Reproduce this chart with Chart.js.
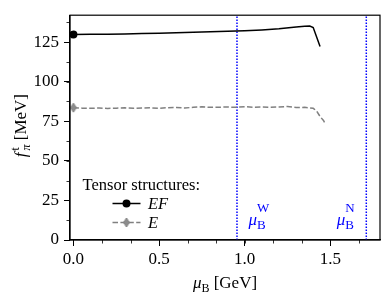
<!DOCTYPE html>
<html>
<head>
<meta charset="utf-8">
<script src="https://cdn.jsdelivr.net/npm/chart.js@4/dist/chart.umd.min.js"></script>
<style>
  html, body { margin: 0; padding: 0; background: #fff; }
</style>
</head>
<body>
<canvas id="fpiChart" width="390" height="299"></canvas>
<script>
// data
const muEF = [0, 0.1, 0.2, 0.3, 0.4, 0.5, 0.6, 0.7, 0.8, 0.9, 1.0, 1.1, 1.2, 1.3, 1.35, 1.38, 1.40, 1.42, 1.44];
const fEF  = [129.8, 129.9, 130.0, 130.2, 130.4, 130.6, 130.9, 131.2, 131.5, 131.8, 132.2, 132.7, 133.4, 134.5, 135.0, 135.1, 134.2, 128.3, 122.3];

const muE = [0, 0.05, 0.1, 0.15, 0.2, 0.25, 0.3, 0.35, 0.4, 0.45, 0.5, 0.55, 0.6, 0.65, 0.7, 0.75, 0.8, 0.85, 0.9, 0.95, 1.0, 1.05, 1.1, 1.15, 1.2, 1.25, 1.3, 1.35, 1.4, 1.42, 1.44, 1.46, 1.47];
const fE  = [83.6, 83.3, 83.2, 83.4, 83.1, 83.3, 83.5, 83.2, 83.4, 83.5, 83.2, 83.6, 83.7, 83.4, 83.8, 84.1, 83.8, 83.9, 84.0, 83.8, 84.2, 83.9, 84.0, 83.8, 84.0, 84.3, 83.7, 83.8, 83.2, 81.5, 78.0, 75.5, 73.6];

const muLines = [0.955, 1.71];
const muLineNames = ['W', 'N'];

const xTicks = [0.0, 0.5, 1.0, 1.5];
const yTicks = [0, 25, 50, 75, 100, 125];

const FONT = "'Liberation Serif', serif";

//thin diamond marker for the E curve
function thinDiamond(w, h, fill, stroke){
  let c = document.createElement('canvas');
  c.width = w + 2; c.height = h + 2;
  let g = c.getContext('2d');
  g.beginPath();
  g.moveTo(c.width/2, 1);
  g.lineTo(c.width - 1, c.height/2);
  g.lineTo(c.width/2, c.height - 1);
  g.lineTo(1, c.height/2);
  g.closePath();
  g.fillStyle = fill; g.fill();
  g.strokeStyle = stroke; g.lineWidth = 1; g.stroke();
  return c;
}
const diamondImg = thinDiamond(6, 9, '#8c8c8c', '#808080');

function pts(xs, ys){
  return xs.map((x, i) => ({x: x, y: ys[i]}));
}

let datasets = [
  {
    label: 'EF',
    data: pts(muEF, fEF),
    borderColor: '#000',
    backgroundColor: '#000',
    borderWidth: 1.5,
    pointRadius: ctx => ctx.dataIndex === 0 ? 4 : 0,
    pointStyle: 'circle',
    pointBorderWidth: 0
  },
  {
    label: 'E',
    data: pts(muE, fE),
    borderColor: '#808080',
    backgroundColor: '#808080',
    borderWidth: 1.5,
    borderDash: [5.5, 2.4],
    pointRadius: ctx => ctx.dataIndex === 0 ? 5 : 0,
    pointStyle: diamondImg
  }
];
muLines.forEach((m, i) => {
  datasets.push({
    label: 'mu_' + muLineNames[i],
    data: [{x: m, y: 0}, {x: m, y: 142}],
    borderColor: '#0000ff',
    borderWidth: 1.5,
    borderDash: [1.5, 1.5],
    pointRadius: 0
  });
});

//frame, minor ticks, axis titles, legend and labels
const decor = {
  id: 'decor',
  afterDraw(chart){
    let ctx = chart.ctx;
    let a = chart.chartArea;
    let xs = chart.scales.x, ys = chart.scales.y;
    ctx.save();

    // frame
    ctx.strokeStyle = '#000';
    ctx.lineWidth = 1.2;
    ctx.strokeRect(a.left, a.top, a.right - a.left, a.bottom - a.top);

    // minor ticks
    ctx.lineWidth = 0.8;
    ctx.beginPath();
    for(let v = 0; v <= 1.8; v += 0.5/3){
      let px = Math.round(xs.getPixelForValue(v)) + 0.5;
      if(px < a.left || px > a.right) continue;
      ctx.moveTo(px, a.bottom); ctx.lineTo(px, a.bottom + 3.5);
    }
    for(let v = 0; v <= 142; v += 12.5){
      let py = Math.round(ys.getPixelForValue(v)) + 0.5;
      if(py < a.top) continue;
      ctx.moveTo(a.left, py); ctx.lineTo(a.left - 3.5, py);
    }
    ctx.stroke();

    ctx.fillStyle = '#000';
    ctx.textBaseline = 'alphabetic';
    ctx.textAlign = 'left';

    // x title: mu_B [GeV]
    let fMain = '17px ' + FONT, fIt = 'italic 17px ' + FONT, fSub = '12px ' + FONT, fSubIt = 'italic 12px ' + FONT;
    ctx.font = fIt; let w1 = ctx.measureText('μ').width;
    ctx.font = fSub; let w2 = ctx.measureText('B').width;
    ctx.font = fMain; let w3 = ctx.measureText(' [GeV]').width;
    let x0 = (a.left + a.right)/2 - (w1 + w2 + w3)/2, yb = 288;
    ctx.font = fIt; ctx.fillText('μ', x0, yb);
    ctx.font = fSub; ctx.fillText('B', x0 + w1, yb + 3.5);
    ctx.font = fMain; ctx.fillText(' [GeV]', x0 + w1 + w2, yb);

    // y title: f_pi^t [MeV]
    ctx.save();
    ctx.translate(25.5, (a.top + a.bottom)/2 - 2);
    ctx.rotate(-Math.PI/2);
    ctx.font = fIt; let wf = ctx.measureText('f').width + 2;
    ctx.font = fSubIt; let wp = ctx.measureText('π').width;
    ctx.font = fSub; let wt = ctx.measureText('t').width;
    let ws = Math.max(wp, wt);
    ctx.font = fMain; let wm = ctx.measureText(' [MeV]').width;
    let sx = -(wf + ws + wm)/2;
    ctx.font = fIt; ctx.fillText('f', sx, 0);
    ctx.font = fSub; ctx.fillText('t', sx + wf, -7);
    ctx.font = fSubIt; ctx.fillText('π', sx + wf, 4);
    ctx.font = fMain; ctx.fillText(' [MeV]', sx + wf + ws, 0);
    ctx.restore();

    // mu_B^W, mu_B^N labels
    ctx.fillStyle = '#0000ff';
    let offs = [11.5, -29.5];
    muLines.forEach((m, i) => {
      let lx = xs.getPixelForValue(m) + offs[i];
      ctx.font = fIt; ctx.fillText('μ', lx, 225);
      let wm2 = ctx.measureText('μ').width;
      ctx.font = '13px ' + FONT;
      ctx.fillText('B', lx + wm2, 229);
      ctx.fillText(muLineNames[i], lx + wm2, 212);
    });

    // legend
    ctx.fillStyle = '#000';
    ctx.font = '16.5px ' + FONT;
    ctx.fillText('Tensor structures:', 82.5, 190);
    let rows = [{y: 203.5, ds: chart.data.datasets[0], txt: 'EF'}, {y: 222.5, ds: chart.data.datasets[1], txt: 'E'}];
    rows.forEach((r, k) => {
      ctx.save();
      ctx.strokeStyle = r.ds.borderColor;
      ctx.lineWidth = 1.5;
      ctx.setLineDash(r.ds.borderDash || []);
      ctx.beginPath(); ctx.moveTo(112.5, r.y); ctx.lineTo(140.5, r.y); ctx.stroke();
      ctx.restore();
      if(k === 0){
        ctx.beginPath(); ctx.arc(126.5, r.y, 4, 0, Math.PI*2); ctx.fillStyle = '#000'; ctx.fill();
      } else {
        ctx.drawImage(diamondImg, 126.5 - diamondImg.width/2, r.y - diamondImg.height/2);
      }
      ctx.fillStyle = '#000';
      ctx.font = 'italic 16.5px ' + FONT;
      ctx.fillText(r.txt, 148, r.y + 5.5);
    });

    ctx.restore();
  }
};

let elChart = document.getElementById('fpiChart').getContext('2d');
let fpiChart = new Chart(elChart, {
  type: 'line',
  data: { datasets: datasets },
  options: {
    responsive: false,
    devicePixelRatio: 1,
    animation: false,
    events: [],
    layout: { padding: { top: 9, right: 10, left: 0, bottom: 0 } },
    plugins: { legend: { display: false }, tooltip: { enabled: false } },
    scales: {
      x: {
        type: 'linear',
        min: -0.02,
        max: 1.79,
        afterBuildTicks: s => { s.ticks = xTicks.map(v => ({value: v})); },
        afterFit: s => { s.height = 59; },
        ticks: {
          callback: v => v.toFixed(1),
          font: { family: FONT, size: 17 },
          color: '#000',
          padding: 3,
          maxRotation: 0
        },
        grid: { drawOnChartArea: false, drawTicks: true, tickLength: 6, tickColor: '#000', tickWidth: 1 },
        border: { display: true, color: '#000', width: 1.2 }
      },
      y: {
        min: 0,
        max: 142,
        afterBuildTicks: s => { s.ticks = yTicks.map(v => ({value: v})); },
        afterFit: s => { s.width = 70; },
        ticks: {
          font: { family: FONT, size: 17 },
          color: '#000',
          padding: 5
        },
        grid: { drawOnChartArea: false, drawTicks: true, tickLength: 6, tickColor: '#000', tickWidth: 1 },
        border: { display: true, color: '#000', width: 1.2 }
      }
    }
  },
  plugins: [decor]
});
</script>
</body>
</html>
